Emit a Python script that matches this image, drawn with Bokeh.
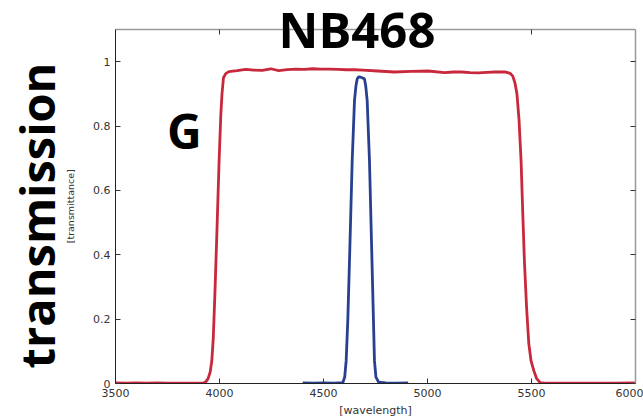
from bokeh.plotting import figure
from bokeh.models import (Range1d, LinearAxis, FixedTicker, Label,
                          CustomJSTickFormatter)
from bokeh.embed import file_html
from bokeh.resources import INLINE

# ---- data -------------------------------------------------------------
g_wavelength = [3500, 3550, 3600, 3650, 3700, 3750, 3800, 3850, 3900, 3925,
                3934, 3945, 3955, 3963, 3970, 3978, 3988, 3998, 4006, 4012,
                4019, 4030, 4045, 4085, 4126, 4165, 4206, 4246, 4285, 4325,
                4367, 4408, 4448, 4488, 4527, 4570, 4609, 4650, 4689, 4760,
                4841, 4920, 5003, 5082, 5124, 5164, 5205, 5245, 5285, 5324,
                5372, 5397, 5410, 5420, 5430, 5440, 5450, 5458, 5466, 5476,
                5487, 5498, 5511, 5525, 5541, 5560, 5600, 5700, 5800, 5900,
                6000]
g_trans = [0.002, 0.001, 0.002, 0.001, 0.002, 0.001, 0.001, 0.001, 0.001, 0.002,
           0.005, 0.015, 0.035, 0.07, 0.14, 0.28, 0.48, 0.69, 0.83, 0.90,
           0.95, 0.963, 0.969, 0.972, 0.976, 0.974, 0.973, 0.978, 0.972, 0.975,
           0.977, 0.976, 0.978, 0.977, 0.977, 0.976, 0.975, 0.975, 0.974, 0.971,
           0.968, 0.970, 0.971, 0.966, 0.968, 0.968, 0.966, 0.965, 0.967, 0.968,
           0.968, 0.964, 0.955, 0.935, 0.90, 0.82, 0.69, 0.53, 0.38, 0.24,
           0.124, 0.07, 0.04, 0.015, 0.003, 0.001, 0.001, 0.001, 0.001, 0.001,
           0.002]

nb_wavelength = [4400, 4450, 4500, 4550, 4593, 4602, 4609, 4617, 4625, 4638,
                 4649, 4656, 4662, 4668, 4673, 4685, 4693, 4697, 4703, 4710,
                 4721, 4733, 4745, 4752, 4765, 4800, 4850, 4907]
nb_trans = [0.002, 0.001, 0.002, 0.001, 0.003, 0.02, 0.071, 0.2, 0.382, 0.693,
            0.879, 0.925, 0.946, 0.952, 0.953, 0.950, 0.948, 0.946, 0.925, 0.879,
            0.693, 0.382, 0.071, 0.02, 0.004, 0.002, 0.001, 0.002]

x_ticks = [3500, 4000, 4500, 5000, 5500, 6000]
y_ticks = [0, 0.2, 0.4, 0.6, 0.8, 1.0]

x_lo, x_hi = 3500, 6000
y_lo, y_top = 0, 1.1

title_text = "NB468"
filter_text = "G"
big_ylabel = "transmission"
ylabel = "[transmittance]"
xlabel = "[wavelength]"

# ---- figure -----------------------------------------------------------
# the frame reaches the top of the canvas so the big title is not clipped;
# the visible box ends at y_top (drawn below)
H, W = 419, 643
box_top_px, box_bottom_px = 29, 36
frame_h = H - box_bottom_px
y_frame_top = y_top * frame_h / (frame_h - box_top_px)
px_per_unit = frame_h / y_frame_top

p = figure(width=W, height=H, output_backend="svg", toolbar_location=None,
           x_range=Range1d(x_lo, x_hi), y_range=Range1d(y_lo, y_frame_top),
           x_axis_type=None, y_axis_type=None,
           min_border_left=115, min_border_right=8,
           min_border_top=0, min_border_bottom=box_bottom_px)
p.grid.visible = False
p.background_fill_color = "white"
p.border_fill_color = "white"
p.outline_line_color = None

fmt = CustomJSTickFormatter(code="return String(+tick.toFixed(2));")
blank = CustomJSTickFormatter(code="return '';")

def make_axis(ticks, labels=True, line_color="#222222", line_width=1):
    ax = LinearAxis(ticker=FixedTicker(ticks=ticks))
    ax.formatter = fmt if labels else blank
    ax.major_tick_in = 5
    ax.major_tick_out = 0
    ax.minor_tick_in = 0
    ax.minor_tick_out = 0
    ax.minor_tick_line_color = None
    ax.major_tick_line_color = "#333333"
    ax.major_label_text_font = "DejaVu Sans"
    ax.major_label_text_font_size = "11px"
    ax.major_label_text_color = "#333333"
    ax.major_label_standoff = 5 if labels else 0
    ax.axis_line_color = line_color
    ax.axis_line_width = line_width
    return ax

xb = make_axis(x_ticks)
xb.axis_label = xlabel
xb.axis_label_text_font = "DejaVu Sans"
xb.axis_label_text_font_size = "11px"
xb.axis_label_text_font_style = "normal"
xb.axis_label_text_color = "#333333"
xb.axis_label_standoff = 4
p.add_layout(xb, "below")

# the vertical labels are centred on the (taller) frame; a few trailing
# em/en spaces move them down to where the reference has them
yl = make_axis(y_ticks)
yl.bounds = (y_lo, y_top)
yl.axis_label = ylabel + "\u2003\u2003\u2003"
yl.axis_label_text_font = "DejaVu Sans"
yl.axis_label_text_font_size = "9.5px"
yl.axis_label_text_font_style = "normal"
yl.axis_label_text_color = "#333333"
yl.axis_label_standoff = 14
p.add_layout(yl, "left")

# outer left axis only carries the big "transmission" label
yb = LinearAxis(ticker=FixedTicker(ticks=[]), formatter=blank)
yb.axis_line_color = None
yb.major_tick_line_color = None
yb.minor_tick_line_color = None
yb.major_tick_in = 0
yb.major_tick_out = 0
yb.minor_tick_in = 0
yb.minor_tick_out = 0
yb.major_label_standoff = 0
yb.axis_label = big_ylabel + "\u2002\u2002"
yb.axis_label_text_font = "Open Sans"
yb.axis_label_text_font_style = "bold"
yb.axis_label_text_font_size = "47px"
yb.axis_label_text_color = "black"
yb.axis_label_standoff = -6
p.add_layout(yb, "left")

yr = make_axis(y_ticks, labels=False, line_color="#999999", line_width=1.5)
yr.bounds = (y_lo, y_top)
p.add_layout(yr, "right")

# top border of the box with inward ticks
tick_len = 5 / px_per_unit
p.line([x_lo, x_hi], [y_top, y_top], line_color="#999999", line_width=1.5)
p.segment(x0=x_ticks, x1=x_ticks, y0=[y_top] * len(x_ticks),
          y1=[y_top - tick_len] * len(x_ticks), line_color="#333333",
          line_width=1)

# ---- curves -----------------------------------------------------------
p.line(g_wavelength, g_trans, line_color="#c8283c", line_width=2.8,
       line_join="round")
p.line(nb_wavelength, nb_trans, line_color="#27408f", line_width=2.8,
       line_join="round")

# ---- texts ------------------------------------------------------------
p.add_layout(Label(x=4661, y=1.103, text=title_text, text_align="center",
                   text_baseline="alphabetic", text_font="Open Sans",
                   text_font_style="bold", text_font_size="49px",
                   text_color="black"))
p.add_layout(Label(x=3831, y=0.786, text=filter_text, text_align="center",
                   text_baseline="alphabetic", text_font="Open Sans",
                   text_font_style="bold", text_font_size="48px",
                   text_color="black"))

open("out.html", "w").write(file_html(p, INLINE))
